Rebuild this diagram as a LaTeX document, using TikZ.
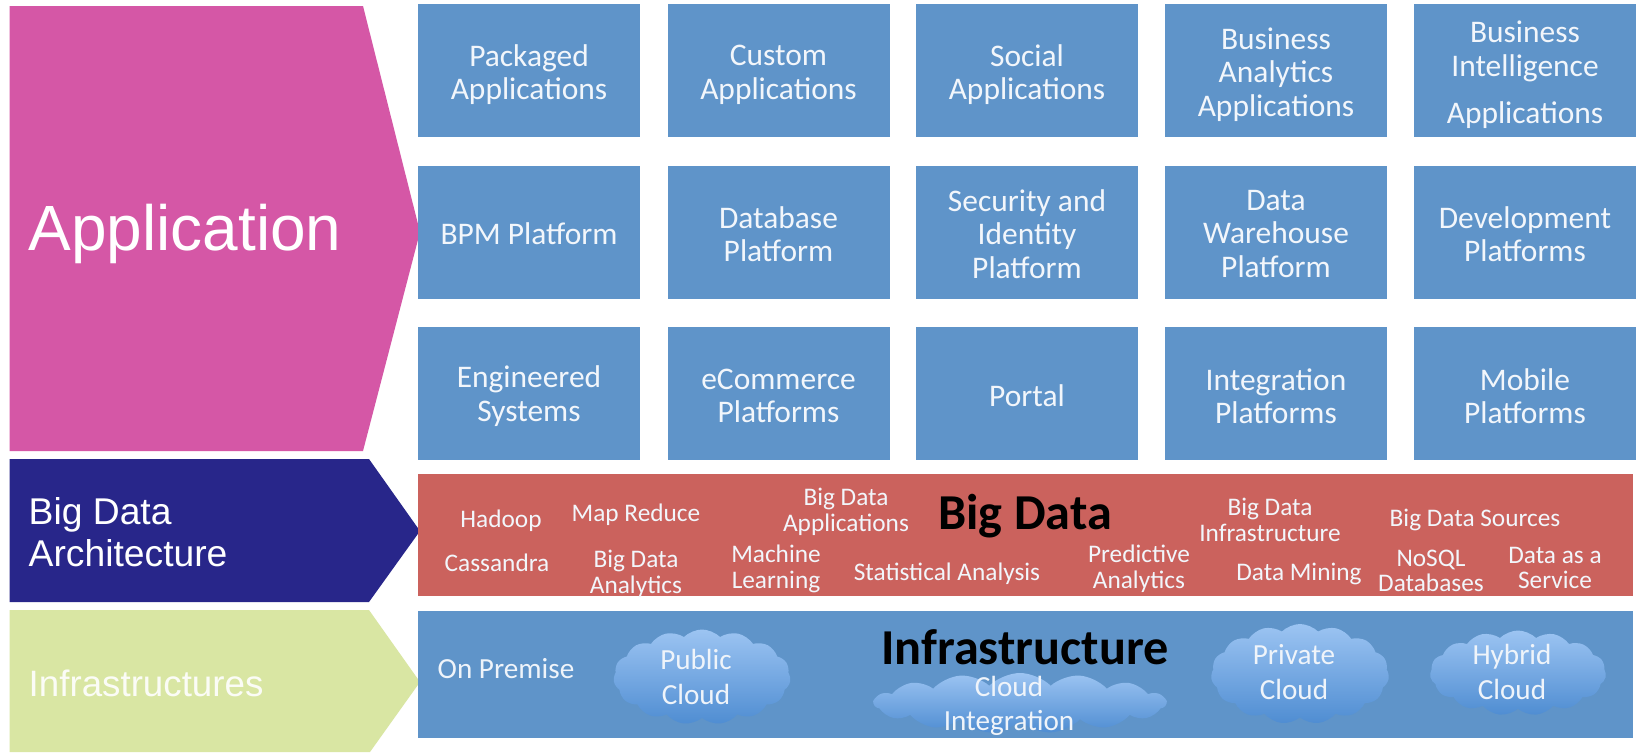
\documentclass[tikz,border=0pt]{standalone}
\usepackage{fontspec}
\setmainfont{Carlito}
\newfontfamily\arialfont{Liberation Sans}
\usetikzlibrary{shapes.symbols}
\definecolor{boxblue}{HTML}{5F94C9}
\definecolor{boxred}{HTML}{CB625D}
\definecolor{apppink}{HTML}{D557A6}
\definecolor{bdnavy}{HTML}{28268A}
\definecolor{infgreen}{HTML}{D9E6A3}
\definecolor{cloudtop}{HTML}{9CC4F2}
\definecolor{cloudbottom}{HTML}{4F8DD2}
\tikzset{
         appbox/.style=
          {
           fill=boxblue,
           minimum width=2.22cm,
           minimum height=1.33cm,
           inner sep=0pt
          },
         boxlabel/.style=
          {
           text=white!92!boxblue,
           inner sep=0pt,
           align=center,
           font=\fontsize{8.95}{9.5}\selectfont
          },
         bandlabel/.style=
          {
           text=white!92!boxblue,
           inner sep=0pt,
           align=center,
           font=\fontsize{7.2}{7.3}\selectfont
          },
         cloudlabel/.style=
          {
           text=white!90!boxblue,
           inner sep=0pt,
           align=center,
           font=\fontsize{8.3}{10}\selectfont
          },
         bandtitle/.style=
          {
           text=black,
           inner sep=0pt,
           font=\fontsize{14.3}{16}\selectfont\bfseries
          },
         bluecloud/.style=
          {
           shape=cloud,
           cloud puffs=15,
           cloud puff arc=90,
           cloud ignores aspect,
           inner sep=0pt,
           top color=cloudtop,
           bottom color=cloudbottom,
           draw=none
          },
         leftlabel/.style=
          {
           inner sep=0pt,
           align=left,
           anchor=west
          }
        }

\begin{document}
\begin{tikzpicture}
\useasboundingbox[fill=white](0,0)rectangle(16.36,7.52);
%left arrows
\fill[apppink](.095,7.46)--(3.63,7.46)--(4.2,5.2)--(3.63,3.01)--(.095,3.01)--cycle;
\fill[bdnavy](.095,2.93)--(3.69,2.93)--(4.2,2.21)--(3.69,1.5)--(.095,1.5)--cycle;
\fill[infgreen](.095,1.42)--(3.69,1.42)--(4.2,.7)--(3.7,0)--(.095,0)--cycle;
\node[leftlabel,text=white,font=\arialfont\fontsize{18.2}{22}\selectfont](application)at(.28,5.18){Application};
\node[leftlabel,text=white,font=\arialfont\fontsize{10.6}{12.1}\selectfont](bigdataarch)at(.28,2.2){Big Data\\Architecture};
\node[leftlabel,text=white!90!infgreen,font=\arialfont\fontsize{10.45}{12}\selectfont](infrastructures)at(.28,.69){Infrastructures};
%top row
\foreach \x/\boxname/\boxtext in {5.29/packaged/{Packaged\\Applications},7.785/custom/{Custom\\Applications},
10.27/social/{Social\\Applications},12.76/analytics/{Business\\Analytics\\Applications},
15.25/intelligence/{Business\\Intelligence\\[3.8pt]Applications}}{
\node[appbox](\boxname)at(\x,6.815){};
\node[boxlabel](\boxname text)at(\x,6.773){\boxtext};
}
%middle row
\foreach \x/\boxname/\boxtext in {5.29/bpm/{BPM Platform},7.785/database/{Database\\Platform},
10.27/security/{Security and\\Identity\\Platform},12.76/warehouse/{Data\\Warehouse\\Platform},
15.25/development/{Development\\Platforms}}{
\node[appbox](\boxname)at(\x,5.2){};
\node[boxlabel](\boxname text)at(\x,5.18){\boxtext};
}
%bottom row
\foreach \x/\boxname/\boxtext in {5.29/engineered/{Engineered\\Systems},7.785/ecommerce/{eCommerce\\Platforms},
10.27/portal/{Portal},12.76/integration/{Integration\\Platforms},15.25/mobile/{Mobile\\Platforms}}{
\node[appbox](\boxname)at(\x,3.59){};
\node[boxlabel](\boxname text)at(\x,3.56){\boxtext};
}
%big data band
\fill[boxred](4.18,2.78)rectangle(16.33,1.56);
\node[bandtitle](bigdata)at(10.25,2.36){Big Data};
\node[bandlabel](hadoop)at(5.01,2.31){Hadoop};
\node[bandlabel](mapreduce)at(6.36,2.37){Map Reduce};
\node[bandlabel](bdapps)at(8.46,2.4){Big Data\\Applications};
\node[bandlabel](bdinfra)at(12.7,2.32){Big Data\\Infrastructure};
\node[bandlabel](bdsources)at(14.75,2.32){Big Data Sources};
\node[bandlabel](cassandra)at(4.97,1.89){Cassandra};
\node[bandlabel](bdanalytics)at(6.36,1.78){Big Data\\Analytics};
\node[bandlabel](learning)at(7.76,1.83){Machine\\Learning};
\node[bandlabel](statistical)at(9.47,1.78){Statistical Analysis};
\node[bandlabel](predictive)at(11.39,1.83){Predictive\\Analytics};
\node[bandlabel](mining)at(12.99,1.78){Data Mining};
\node[bandlabel](nosql)at(14.31,1.81){NoSQL\\Databases};
\node[bandlabel](service)at(15.55,1.84){Data as a\\Service};
%infrastructure band
\fill[boxblue](4.18,1.41)rectangle(16.33,.14);
\node[bluecloud,minimum width=1.77cm,minimum height=.95cm](publiccloud)at(7.02,.75){};
\node[bluecloud,minimum width=2.92cm,minimum height=.6cm](integrationcloud)at(10.2,.49){};
\node[bluecloud,minimum width=1.78cm,minimum height=1cm](privatecloud)at(13,.78){};
\node[bluecloud,minimum width=1.76cm,minimum height=.85cm](hybridcloud)at(15.18,.79){};
\node[bandtitle](infrastructure)at(10.25,1.05){Infrastructure};
\node[cloudlabel](onpremise)at(5.06,.83){On Premise};
\node[cloudlabel](public)at(6.96,.75){Public\\Cloud};
\node[cloudlabel,font=\fontsize{8.3}{9.7}\selectfont](cloudint)at(10.09,.46){Cloud\\Integration};
\node[cloudlabel](private)at(12.94,.8){Private\\Cloud};
\node[cloudlabel](hybrid)at(15.12,.8){Hybrid\\Cloud};
\end{tikzpicture}
\end{document}
